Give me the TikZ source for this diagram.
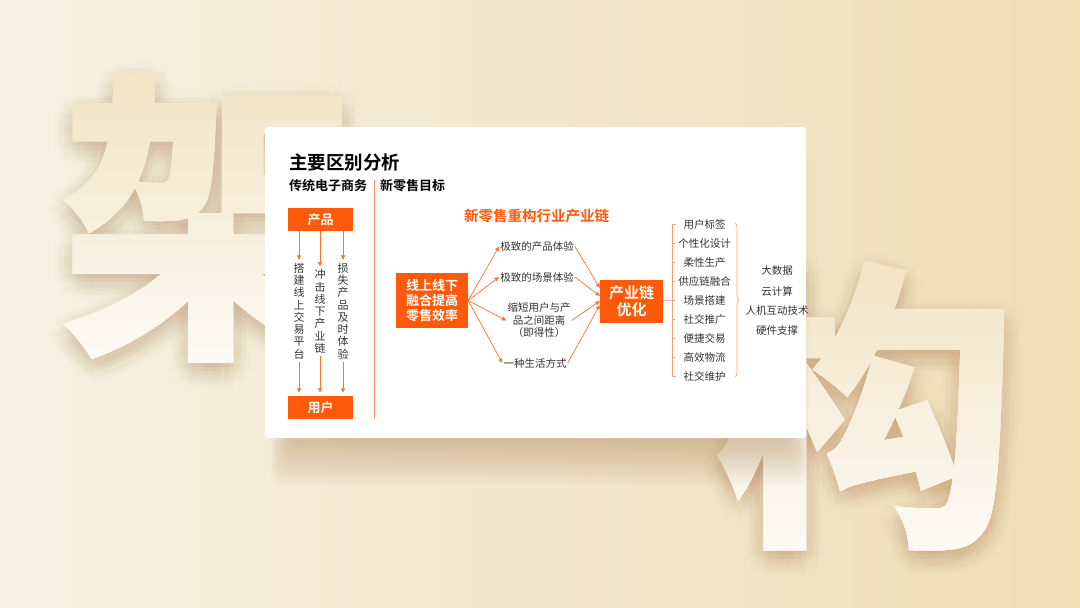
\documentclass[tikz,border=0pt]{standalone}
\usepackage{fontspec}
\setmainfont{Noto Sans CJK SC}[BoldFont={Noto Sans CJK SC Bold}]
\newfontfamily\cuti{Noto Sans CJK SC Bold}[FakeBold=2.5]
\usepackage{xcolor}
\usetikzlibrary{arrows.meta,positioning,decorations.pathreplacing}

\definecolor{chengse}{HTML}{FF5A0A}
\definecolor{qiancheng}{HTML}{F7A075}
\definecolor{wenzi}{HTML}{333333}
\definecolor{beijing1}{HTML}{F7F0E3}
\definecolor{beijing2}{HTML}{EFDEB6}
\definecolor{yinying}{HTML}{A87A48}
\definecolor{zitou}{HTML}{F2E4C5}
\definecolor{zidi}{HTML}{FDFAF5}

\begin{document}
\begin{tikzpicture}[x=1pt,y=-1pt,
    hezi/.style={fill=chengse,text=white,font=\bfseries\fontsize{13}{15}\selectfont,align=center,inner sep=0pt},
    jiantou/.style={draw=chengse!85,line width=0.7pt,-{Triangle[length=4.5pt,width=4pt]}},
    xiaozi/.style={text=wenzi,font=\fontsize{10.5}{12.5}\selectfont,align=center,inner sep=1pt},
    shuzi/.style={text=wenzi,font=\fontsize{11}{12.25}\selectfont,align=center,inner sep=1pt},
    dazi/.style={font=\cuti\fontsize{300}{300}\selectfont,inner sep=0pt}]
  \useasboundingbox (0,0) rectangle (1080,608);
  % background
  \shade[left color=beijing1,right color=beijing2] (0,0) rectangle (1080,608);
  % big characters: soft shadow, then a cream-to-white fill
  \foreach \r in {6,12,18}
    \foreach \a in {0,45,...,315} {
      \node[dazi,text=yinying,text opacity=0.014] at ({211+\r*cos(\a)},{226+\r*sin(\a)}) {架};
      \node[dazi,text=yinying,text opacity=0.014] at ({866+\r*cos(\a)},{414+\r*sin(\a)}) {构};
    }
  \foreach \k in {0,...,11} {
    \pgfmathtruncatemacro\p{100*\k/11}
    \begin{scope}
      \clip (0,{70+25*\k}) rectangle (600,380);
      \node[dazi,text=zidi!\p!zitou] (jia) at (211,218) {架};
    \end{scope}
    \begin{scope}
      \clip (600,{258+25*\k}) rectangle (1080,570);
      \node[dazi,text=zidi!\p!zitou] (gou) at (866,406) {构};
    \end{scope}
  }
  % card
  \foreach \i in {1,...,14}
    \fill[yinying,opacity=0.03,rounded corners=12pt] (292-1.5*\i,150) rectangle (788+1.5*\i,436+3.5*\i);
  \fill[white,rounded corners=3pt] (265,127) rectangle (806,438);

  % titles
  \node[anchor=west,font=\bfseries\fontsize{18.5}{20}\selectfont,inner sep=0pt] (biaoti) at (289,162) {主要区别分析};
  \node[anchor=west,font=\bfseries\fontsize{13}{15}\selectfont,inner sep=0pt] (chuantong) at (289,185.5) {传统电子商务};
  \node[anchor=west,font=\bfseries\fontsize{13}{15}\selectfont,inner sep=0pt] (mubiao) at (380,185.5) {新零售目标};
  \draw[chengse!70,line width=0.6pt] (374,180) -- (374,418);

  % traditional e-commerce
  \node[hezi,minimum width=65pt,minimum height=23pt] (chanpin) at (320.5,219.5) {产品};
  \node[hezi,minimum width=65pt,minimum height=23pt] (yonghu) at (320.5,407.5) {用户};
  \node[shuzi] (lie1) at (299,311) {搭\\建\\线\\上\\交\\易\\平\\台};
  \node[shuzi] (lie2) at (320,311.5) {冲\\击\\线\\下\\产\\业\\链};
  \node[shuzi] (lie3) at (343,311) {损\\失\\产\\品\\及\\时\\体\\验};
  \foreach \i in {1,2,3} {
    \draw[jiantou,shorten >=2pt] (chanpin.south -| lie\i) -- (lie\i.north);
    \draw[jiantou,shorten <=2pt,shorten >=3pt] (lie\i.south) -- (lie\i |- yonghu.north);
  }

  % new retail
  \node[font=\bfseries\fontsize{14.5}{16}\selectfont,text=chengse] (chonggou) at (536.5,216) {新零售重构行业产业链};
  \node[hezi,minimum width=72pt,minimum height=55pt] (ronghe) at (432,300.5) {线上线下\\融合提高\\零售效率};
  \node[xiaozi] (tiyan1) at (537,246.5) {极致的产品体验};
  \node[xiaozi] (tiyan2) at (537,277) {极致的场景体验};
  \node[xiaozi] (tiyan3) at (539,320.5) {缩短用户与产\\品之间距离\\（即得性）};
  \node[xiaozi] (tiyan4) at (535,363) {一种生活方式};
  \node[hezi,font=\bfseries\fontsize{15}{17}\selectfont,minimum width=63pt,minimum height=43pt] (youhua) at (631.5,301) {产业链\\优化};
  \foreach \i in {1,...,4}
    \draw[jiantou] (ronghe.east) -- (tiyan\i.west);
  \draw[jiantou] (tiyan1.east) -- ([yshift=13pt]youhua.west);
  \draw[jiantou] (tiyan2.east) -- ([yshift=5pt]youhua.west);
  \draw[jiantou] (tiyan3.east) -- ([yshift=0pt]youhua.west);
  \draw[jiantou] (tiyan4.east) -- ([yshift=-4pt]youhua.west);

  % chain list
  \coordinate (kuohao) at (672,300);
  \draw[qiancheng,line width=0.7pt] (youhua.east) -- (kuohao);
  \foreach \t [count=\i] in {用户标签,个性化设计,柔性生产,供应链融合,场景搭建,社交推广,便捷交易,高效物流,社交维护}
    \node[xiaozi] (lian\i) at (704.5,{224.3+19.05*(\i-1)}) {\t};
  \draw[qiancheng,line width=0.7pt] (kuohao |- lian1) ++(4,0) -- ++(-4,0) -- (kuohao |- lian9) -- ++(4,0);
  \foreach \i in {2,...,8}
    \draw[qiancheng,line width=0.7pt] (kuohao |- lian\i) -- ++(3,0);
  \draw[qiancheng,line width=0.7pt,decorate,decoration={brace,amplitude=4pt}] (735,223) -- (735,377);
  \foreach \t [count=\i] in {大数据,云计算,人机互动技术,硬件支撑}
    \node[xiaozi] (jishu\i) at (777,{271+20*(\i-1)}) {\t};
\end{tikzpicture}
\end{document}
